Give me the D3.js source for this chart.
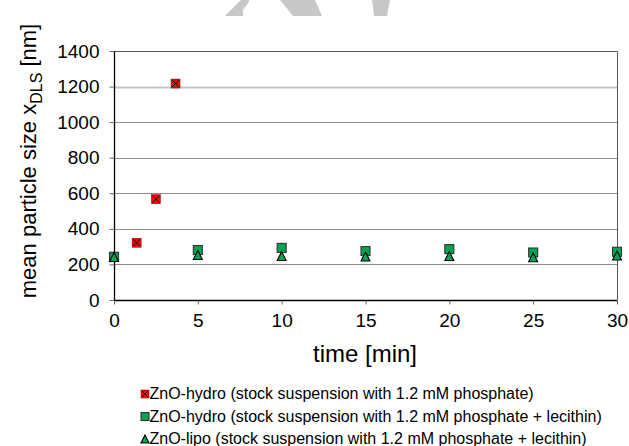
<!DOCTYPE html>
<html>
<head>
<meta charset="utf-8">
<script src="https://cdn.jsdelivr.net/npm/d3@7"></script>
<style>
  body { margin: 0; background: #fff; }
  svg { font-family: "Liberation Sans", Arial, sans-serif; }
</style>
</head>
<body>
<svg width="629" height="446"></svg>
<script>
var svg = d3.select("svg"),
  width = +svg.attr("width"),
  height = +svg.attr("height");

// data
var redTimes = [0, 1.35, 2.5, 3.67];
var redSizes = [240, 322, 567, 1217];
var greenTimes = [0, 5, 10, 15, 20, 25, 30];
var squareSizes = [243, 281, 293, 275, 286, 267, 271];
var triangleSizes = [242, 253, 247, 245, 247, 240, 250];
var yTicks = [0, 200, 400, 600, 800, 1000, 1200, 1400];
var xTicks = [0, 5, 10, 15, 20, 25, 30];
var legendLabels = [
  "ZnO-hydro (stock suspension with 1.2 mM phosphate)",
  "ZnO-hydro (stock suspension with 1.2 mM phosphate + lecithin)",
  "ZnO-lipo (stock suspension with 1.2 mM phosphate + lecithin)"
];

var m = {left: 114, right: 617, top: 51, bottom: 300};
var x = d3.scaleLinear().domain([0, 30]).range([m.left, m.right]);
var y = d3.scaleLinear().domain([0, 1400]).range([m.bottom, m.top]);

// watermark pieces at the top edge
var wm = [
  [[225, 16], [243, 16], [243, 10], [249, 2], [249, 0], [241, 0]],
  [[280, 0], [315, 0], [322, 16], [293, 16]],
  [[372, 0], [390, 0], [387, 16], [374, 16]]
];
svg.append("g").selectAll("polygon")
  .data(wm)
  .enter().append("polygon")
  .attr("points", function(d) { return d.join(" "); })
  .attr("fill", "#c8c8c8");

// grid
svg.append("g").selectAll("line")
  .data(yTicks.slice(1, -1))
  .enter().append("line")
  .attr("x1", m.left).attr("x2", m.right)
  .attr("y1", function(d) { return Math.round(y(d)) + 0.5; })
  .attr("y2", function(d) { return Math.round(y(d)) + 0.5; })
  .attr("stroke", function(d) { return d == 1200 ? "#c4c4c4" : "#8c8c8c"; })
  .attr("stroke-width", function(d) { return d == 1200 ? 2 : 1; });

// top and right frame
svg.append("path")
  .attr("d", "M" + m.left + "," + (m.top + 0.5) + "H" + (m.right + 0.5) + "V" + m.bottom)
  .attr("fill", "none")
  .attr("stroke", "#555");

// axes
var yAxis = svg.append("g")
  .attr("transform", "translate(" + (m.left + 0.5) + ",0)")
  .call(d3.axisLeft(y).tickValues(yTicks).tickFormat(d3.format("d")).tickSize(5).tickPadding(10));
var xAxis = svg.append("g")
  .attr("transform", "translate(0," + (m.bottom + 0.5) + ")")
  .call(d3.axisBottom(x).tickValues(xTicks).tickFormat(d3.format("d")).tickSize(4).tickPadding(9));

[yAxis, xAxis].forEach(function(a) {
  a.select(".domain").attr("stroke", "#000").attr("stroke-width", 1.3);
  a.selectAll(".tick line").attr("stroke", "#666");
  a.selectAll(".tick text")
    .attr("fill", "#000")
    .style("font-size", "19px")
    .style("font-family", "Liberation Sans, Arial, sans-serif");
});
yAxis.select(".domain").attr("d", "M0," + (m.bottom + 0.5) + "V" + m.top);
xAxis.select(".domain").attr("d", "M" + m.left + ",0H" + m.right);

// axis titles
svg.append("text")
  .attr("transform", "translate(36,161) rotate(-90)")
  .attr("text-anchor", "middle")
  .style("font-size", "22px")
  .html('mean particle size x<tspan dy="6" font-size="16px">DLS</tspan><tspan dy="-6"> [nm]</tspan>');

svg.append("text")
  .attr("x", 365)
  .attr("y", 362)
  .attr("text-anchor", "middle")
  .style("font-size", "24px")
  .text("time [min]");

// markers
function crossSquare(g, cx, cy, s) {
  g.append("rect")
    .attr("x", cx - s / 2).attr("y", cy - s / 2)
    .attr("width", s).attr("height", s)
    .attr("fill", "#ff0000").attr("stroke", "#800000").attr("stroke-width", 0.5);
  g.append("path")
    .attr("d", "M" + (cx - s / 2 + 1) + "," + (cy - s / 2 + 1) + "L" + (cx + s / 2 - 1) + "," + (cy + s / 2 - 1) +
      "M" + (cx + s / 2 - 1) + "," + (cy - s / 2 + 1) + "L" + (cx - s / 2 + 1) + "," + (cy + s / 2 - 1))
    .attr("stroke", "#000").attr("stroke-width", 0.9);
}
function square(g, cx, cy, s) {
  g.append("rect")
    .attr("x", cx - s / 2).attr("y", cy - s / 2)
    .attr("width", s).attr("height", s)
    .attr("fill", "#00a651").attr("stroke", "#333").attr("stroke-width", 1.1);
}
function triangle(g, cx, cy, s) {
  g.append("path")
    .attr("d", "M" + cx + "," + (cy - s / 2) + "L" + (cx + s / 2) + "," + (cy + s / 2) + "L" + (cx - s / 2) + "," + (cy + s / 2) + "Z")
    .attr("fill", "#00a651").attr("stroke", "#000").attr("stroke-width", 1.1);
}

var pts = svg.append("g");
redTimes.forEach(function(t, i) { crossSquare(pts, x(t), y(redSizes[i]), 9); });
greenTimes.forEach(function(t, i) { square(pts, x(t), y(squareSizes[i]), 9); });
greenTimes.forEach(function(t, i) { triangle(pts, x(t), y(triangleSizes[i]), 9); });

// legend
var leg = svg.append("g");
var markers = [crossSquare, square, triangle];
legendLabels.forEach(function(l, i) {
  var by = 399 + i * 22.5;
  markers[i](leg, 145, by - 5, 8);
  leg.append("text")
    .attr("x", 149.5)
    .attr("y", by)
    .style("font-size", "16px")
    .text(l);
});
</script>
</body>
</html>
